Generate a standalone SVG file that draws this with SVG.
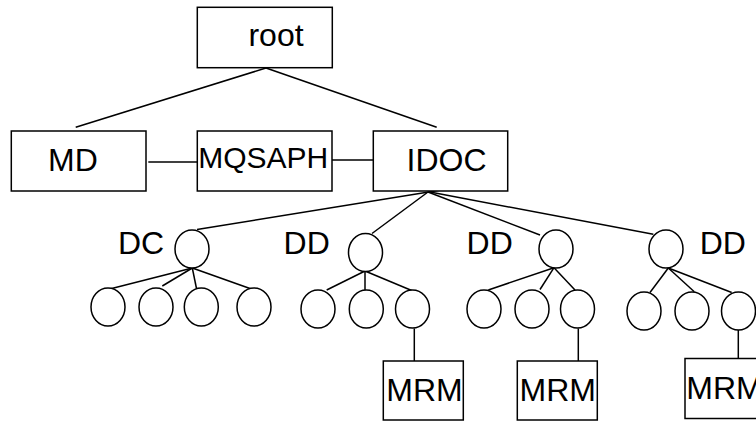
<svg xmlns="http://www.w3.org/2000/svg" width="756" height="421" viewBox="0 0 756 421">
<style>
  rect, ellipse { fill: #fff; stroke: #000; stroke-width: 1.5; }
  line { stroke: #000; stroke-width: 1.5; }
  text { font-family: "Liberation Sans", Arial, sans-serif; font-size: 32px; fill: #000; text-anchor: middle; }
</style>
<rect width="756" height="421" fill="#fff" style="stroke:none"/>
<g id="connectors">
  <line x1="266" y1="68" x2="75.7" y2="127.3"/>
  <line x1="266" y1="68" x2="436.7" y2="127.3"/>
  <line x1="148.3" y1="162" x2="197.3" y2="162"/>
  <line x1="332" y1="160" x2="373.3" y2="160"/>
  <line x1="441" y1="190" x2="197" y2="229.5"/>
  <line x1="428" y1="192" x2="372" y2="233.5"/>
  <line x1="428" y1="192" x2="540" y2="235"/>
  <line x1="430" y1="192" x2="653.3" y2="234.3"/>
  <line x1="192.3" y1="268" x2="111.7" y2="288.5"/>
  <line x1="192.3" y1="268" x2="162.3" y2="286"/>
  <line x1="192.3" y1="268" x2="196.5" y2="288.5"/>
  <line x1="192.3" y1="268" x2="250" y2="288.5"/>
  <line x1="365" y1="271" x2="326.7" y2="290"/>
  <line x1="365" y1="271" x2="365" y2="290"/>
  <line x1="365" y1="271" x2="411.7" y2="290.5"/>
  <line x1="554" y1="267.7" x2="488.3" y2="290"/>
  <line x1="554" y1="267.7" x2="540" y2="289.5"/>
  <line x1="554" y1="267.7" x2="575" y2="290"/>
  <line x1="668.3" y1="268" x2="650" y2="292.5"/>
  <line x1="668.3" y1="268" x2="694.3" y2="291.7"/>
  <line x1="668.3" y1="268" x2="731.7" y2="292.5"/>
  <line x1="414.3" y1="328.5" x2="414.3" y2="361"/>
  <line x1="578.3" y1="328.5" x2="578.3" y2="361"/>
  <line x1="738.3" y1="330" x2="738.3" y2="358.5"/>
</g>
<g id="root"><rect x="197.3" y="7.3" width="135" height="60.4"/><text x="276" y="46">root</text></g>
<g id="MD"><rect x="11.3" y="131" width="134.7" height="60"/><text x="73" y="170.7">MD</text></g>
<g id="MQSAPH"><rect x="197.3" y="131" width="134.7" height="60"/><text x="263.2" y="168" style="font-size:30px">MQSAPH</text></g>
<g id="IDOC"><rect x="373.3" y="131" width="134.4" height="60"/><text x="446.5" y="171">IDOC</text></g>
<g id="DC"><ellipse cx="192" cy="249" rx="17" ry="19"/><text x="141" y="254.3">DC</text></g>
<g id="DD1"><ellipse cx="365.5" cy="252.5" rx="17" ry="19"/><text x="306.7" y="254">DD</text></g>
<g id="DD2"><ellipse cx="556" cy="249" rx="17" ry="19"/><text x="489.7" y="254">DD</text></g>
<g id="DD3"><ellipse cx="666" cy="249" rx="17" ry="19"/><text x="722.8" y="254">DD</text></g>
<g id="DC-c1"><ellipse cx="108" cy="307" rx="17" ry="19"/></g>
<g id="DC-c2"><ellipse cx="156" cy="307" rx="17" ry="19"/></g>
<g id="DC-c3"><ellipse cx="201.3" cy="307" rx="17" ry="19"/></g>
<g id="DC-c4"><ellipse cx="254" cy="307" rx="17" ry="19"/></g>
<g id="DD1-c1"><ellipse cx="318" cy="309" rx="17" ry="19"/></g>
<g id="DD1-c2"><ellipse cx="366.3" cy="309" rx="17" ry="19"/></g>
<g id="DD1-c3"><ellipse cx="412.5" cy="309" rx="17" ry="19"/></g>
<g id="DD2-c1"><ellipse cx="484" cy="309" rx="17" ry="19"/></g>
<g id="DD2-c2"><ellipse cx="532" cy="309" rx="17" ry="19"/></g>
<g id="DD2-c3"><ellipse cx="577.5" cy="309" rx="17" ry="19"/></g>
<g id="DD3-c1"><ellipse cx="644" cy="311" rx="17" ry="19"/></g>
<g id="DD3-c2"><ellipse cx="692" cy="311" rx="17" ry="19"/></g>
<g id="DD3-c3"><ellipse cx="738.5" cy="311" rx="17" ry="19"/></g>
<g id="MRM1"><rect x="383.3" y="361" width="80" height="59"/><text x="424.5" y="401">MRM</text></g>
<g id="MRM2"><rect x="517.3" y="361" width="80" height="59"/><text x="557.8" y="400.7">MRM</text></g>
<g id="MRM3"><rect x="685" y="358.5" width="80" height="60"/><text x="724.5" y="399.3">MRM</text></g>
</svg>
